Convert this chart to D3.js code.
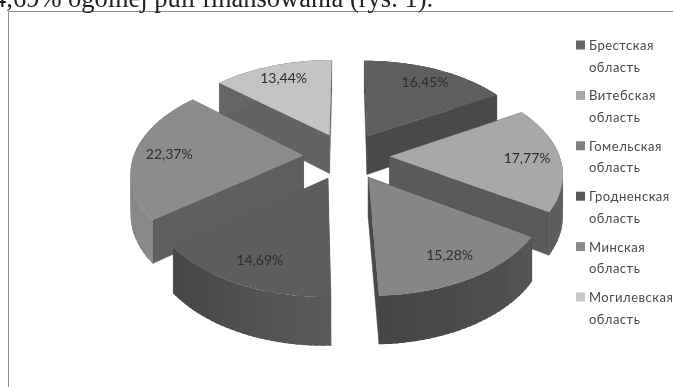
<!DOCTYPE html>
<html><head><meta charset="utf-8">
<script src="https://cdn.jsdelivr.net/npm/d3@7"></script>
<style>html,body{margin:0;padding:0;background:#fff;overflow:hidden}svg{display:block}</style>
</head><body><svg id="c" width="673" height="387"></svg>
<script>
const categories = ["Брестская","Витебская","Гомельская","Гродненская","Минская","Могилевская"];
const values = [16.45,17.77,15.28,14.69,22.37,13.44];
const valueLabels = ["16,45%","17,77%","15,28%","14,69%","22,37%","13,44%"];
const legendSecondLine = "область";
const heading = "4,69% ogólnej puli finansowania (rys. 1).";

const topColors = ["#5f5f5f","#a8a8a8","#868686","#5e5d5d","#8c8c8c","#c4c4c4"];
const swatchColors = ["#666666","#a8a8a8","#808080","#585858","#8a8a8a","#c8c8c8"];
const radialColors = ["#494949","#5a5a5a","#484848","#5e5d5d","#5f5f5f","#636363"];
const outerFrom = ["#4a4a4a","#6e6e6e","#555555","#5c5a5a","#8a8a8a","#666666"];
const outerTo = ["#4a4a4a","#5c5c5c","#444444","#454343","#808080","#666666"];
const paintOrder = [0,5,1,4,2,3];

const root = d3.select("#c");
root.append("defs").append("filter").attr("id","soft").attr("x",0).attr("y",0).attr("width","100%").attr("height","100%")
  .append("feGaussianBlur").attr("stdDeviation",0.4);
const svg = root.append("g").attr("filter","url(#soft)");
svg.append("rect").attr("width",673).attr("height",387).attr("fill","#fff");
const cx=346.5, cy=156, R=170, explode=43, H=39.5, pers=0.00091, tilt=0.546;
function project(X,Y,Z){
  const s=1/(1+pers*Y);
  return [cx+X*s, cy-tilt*Y*s+Z*s];
}
const arcs=d3.pie().sort(null)(values);
const line=d3.line();
function offset(a){
  const m=(a.startAngle+a.endAngle)/2;
  return [explode*Math.sin(m),explode*Math.cos(m)];
}
function rimPoint(a,t,r){
  const o=offset(a);
  return [o[0]+r*Math.sin(t),o[1]+r*Math.cos(t)];
}
const steps=d3.range(0,1.0001,1/30);

// frame and clipped heading
svg.append("path").attr("d","M8.5,387V11.5H673").attr("fill","none").attr("stroke","#8c8c8c").attr("stroke-width",1);
svg.append("text").attr("x",-7).attr("y",7).attr("font-family","Liberation Serif").attr("font-size",26.5).attr("fill","#222").text(heading);

paintOrder.forEach(i=>{
  const a=arcs[i], o=offset(a), g=svg.append("g");
  const angle=d3.scaleLinear().domain([0,1]).range([a.startAngle,a.endAngle]);
  const col=d3.scaleLinear().domain([0,1]).range([outerFrom[i],outerTo[i]]);
  // radial walls
  [a.startAngle,a.endAngle].forEach(t=>{
    const p=rimPoint(a,t,R);
    g.append("path").attr("d",line([project(o[0],o[1],0),project(p[0],p[1],0),project(p[0],p[1],H),project(o[0],o[1],H)])+"Z")
      .attr("fill",radialColors[i]).attr("stroke",radialColors[i]).attr("stroke-width",.5);
  });
  // outer wall
  for(let k=0;k<steps.length-1;k++){
    const p=rimPoint(a,angle(steps[k]),R), q=rimPoint(a,angle(Math.min(1,steps[k+1]+0.02)),R), c=col(steps[k]);
    g.append("path").attr("d",line([project(p[0],p[1],0),project(q[0],q[1],0),project(q[0],q[1],H),project(p[0],p[1],H)])+"Z")
      .attr("fill",c);
  }
  // top face
  const rim=steps.map(s=>{const p=rimPoint(a,angle(s),R);return project(p[0],p[1],0);});
  g.append("path").attr("d",line([project(o[0],o[1],0),...rim])+"Z").attr("fill",topColors[i]);
  // value label
  const m=(a.startAngle+a.endAngle)/2, lp=rimPoint(a,m,R*0.8), xy=project(lp[0],lp[1],0);
  g.append("text").attr("x",xy[0]+1).attr("y",xy[1]+5).attr("text-anchor","middle")
    .attr("font-family","Lato").attr("font-size",14).attr("fill","#2e2e2e").text(valueLabels[i]);
});

// legend
const rowY=d3.scaleLinear().domain([0,categories.length-1]).range([45,297]);
categories.forEach((c,i)=>{
  const y=rowY(i);
  svg.append("rect").attr("x",576).attr("y",y-4.5).attr("width",9).attr("height",9).attr("fill",swatchColors[i]);
  svg.append("text").attr("x",589).attr("y",y+5).attr("font-family","Lato").attr("font-size",13).attr("letter-spacing",.5).attr("fill","#4a4a4a").text(c);
  svg.append("text").attr("x",589).attr("y",y+26.5).attr("font-family","Lato").attr("font-size",13).attr("letter-spacing",.5).attr("fill","#4a4a4a").text(legendSecondLine);
});
</script></body></html>
